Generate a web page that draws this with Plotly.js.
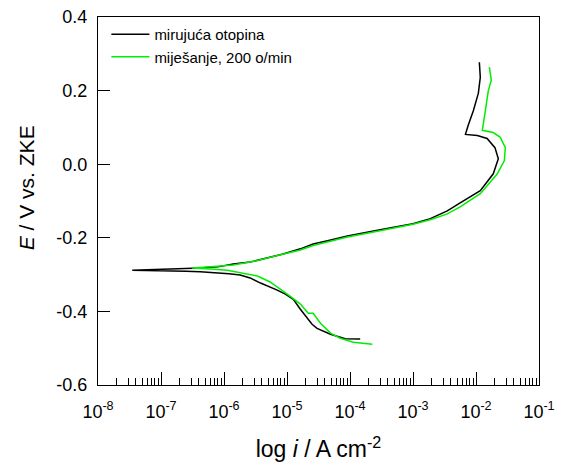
<!DOCTYPE html>
<html>
<head>
<meta charset="utf-8">
<script src="https://cdn.plot.ly/plotly-3.0.1.min.js"></script>
<style>html,body{margin:0;padding:0;background:#fff;}#chart{width:566px;height:474px;}</style>
</head>
<body>
<div id="chart"></div>
<script>
// mirujuća otopina (quiescent solution): current density i (A cm-2) and potential E (V vs. ZKE)
const stillI = [1.45e-4, 8.4e-5, 4.9e-5, 3.0e-5, 2.5e-5, 2.1e-5, 1.63e-5, 1.26e-5, 9.4e-6, 7.0e-6,
  4.9e-6, 3.8e-6, 2.6e-6, 1.8e-6, 1.2e-6, 8.7e-7, 6.0e-7, 4.2e-7, 2.5e-7, 1.4e-7, 3.5e-8, 1.4e-7,
  2.4e-7, 4.2e-7, 8.0e-7, 1.4e-6, 2.6e-6, 4.9e-6, 8.7e-6, 1.63e-5, 2.6e-5, 4.4e-5, 9.1e-5, 3.0e-4,
  1.0e-3, 1.88e-3, 3.5e-3, 5.6e-3, 1.17e-2, 1.88e-2, 2.26e-2, 2.0e-2, 1.5e-2, 1.05e-2, 6.8e-3,
  7.5e-3, 9.1e-3, 1.09e-2, 1.17e-2, 1.13e-2];
const stillE = [-0.475, -0.474, -0.462, -0.446, -0.435, -0.419, -0.394, -0.367, -0.353, -0.342,
  -0.331, -0.323, -0.309, -0.301, -0.298, -0.296, -0.294, -0.292, -0.291, -0.290, -0.288, -0.285,
  -0.284, -0.282, -0.279, -0.271, -0.266, -0.255, -0.244, -0.230, -0.217, -0.208, -0.195, -0.178,
  -0.162, -0.148, -0.127, -0.105, -0.072, -0.026, 0.015, 0.045, 0.070, 0.078, 0.081,
  0.105, 0.146, 0.193, 0.236, 0.277];

// miješanje, 200 o/min (stirred solution)
const stirI = [2.26e-4, 1.13e-4, 7.0e-5, 4.9e-5, 3.4e-5, 2.6e-5, 2.18e-5, 1.63e-5, 1.13e-5, 7.8e-6,
  5.4e-6, 3.4e-6, 2.0e-6, 1.13e-6, 6.1e-7, 3.1e-7, 6.1e-7, 1.4e-6, 2.6e-6, 4.9e-6, 8.7e-6,
  1.63e-5, 2.6e-5, 9.1e-5, 3.0e-4, 1.0e-3, 1.88e-3, 3.5e-3, 5.6e-3, 1.17e-2, 2.18e-2, 2.82e-2,
  2.92e-2, 2.43e-2, 1.88e-2, 1.26e-2, 1.41e-2, 1.57e-2, 1.75e-2, 1.63e-2];
const stirE = [-0.489, -0.484, -0.473, -0.459, -0.432, -0.405, -0.405, -0.380, -0.359, -0.339,
  -0.320, -0.304, -0.296, -0.288, -0.285, -0.282, -0.279, -0.274, -0.266, -0.255, -0.245,
  -0.233, -0.221, -0.198, -0.181, -0.163, -0.151, -0.135, -0.116, -0.080, -0.026, 0.010,
  0.045, 0.073, 0.086, 0.092, 0.146, 0.200, 0.228, 0.264];

const seriesNames = ['mirujuća otopina', 'miješanje, 200 o/min'];
const yTicks = [-0.6, -0.4, -0.2, 0.0, 0.2, 0.4];
const yTickText = ['-0.6', '-0.4', '-0.2', '0.0', '0.2', '0.4'];
const xTicks = [1e-8, 1e-7, 1e-6, 1e-5, 1e-4, 1e-3, 1e-2, 1e-1];
const xTickText = ['10<sup>-8</sup>', '10<sup>-7</sup>', '10<sup>-6</sup>', '10<sup>-5</sup>',
  '10<sup>-4</sup>', '10<sup>-3</sup>', '10<sup>-2</sup>', '10<sup>-1</sup>'];

const font = 'Liberation Sans, Arial, sans-serif';

const traces = [
  {x: stillI, y: stillE, mode: 'lines', name: seriesNames[0], line: {color: '#000000', width: 1.5}},
  {x: stirI, y: stirE, mode: 'lines', name: seriesNames[1], line: {color: '#00ee00', width: 1.5}}
];

const layout = {
  width: 566, height: 474,
  margin: {l: 98, r: 27, t: 17, b: 89},
  paper_bgcolor: '#fff', plot_bgcolor: '#fff',
  font: {family: font, color: '#000', size: 18},
  showlegend: true,
  legend: {x: 0.019, y: 0.997, xanchor: 'left', yanchor: 'top', bgcolor: 'rgba(0,0,0,0)',
    font: {size: 15, family: font}, tracegroupgap: 0, itemwidth: 38},
  xaxis: {
    type: 'log', range: [-8, -1], tickmode: 'array', tickvals: xTicks, ticktext: xTickText,
    showgrid: false, zeroline: false, showline: true, linecolor: '#000', linewidth: 1, mirror: true,
    ticks: 'inside', ticklen: 13, tickcolor: '#000', tickwidth: 1,
    minor: {ticks: 'inside', ticklen: 7, tickcolor: '#000', showgrid: false, dtick: 'D1'},
    tickfont: {size: 18, family: font}, ticklabelstandoff: 10,
    title: {text: 'log <i>i</i> / A cm<sup>-2</sup>', font: {size: 23, family: font}, standoff: 20}
  },
  yaxis: {
    range: [-0.6, 0.4], tickmode: 'array', tickvals: yTicks, ticktext: yTickText,
    showgrid: false, zeroline: false, showline: true, linecolor: '#000', linewidth: 1, mirror: true,
    ticks: 'inside', ticklen: 12, tickcolor: '#000', tickwidth: 1,
    tickfont: {size: 18, family: font}, ticklabelstandoff: 6
  },
  annotations: [{
    text: '<i>E</i> / V vs. ZKE', xref: 'paper', yref: 'paper', x: -0.163, y: 0.535,
    xanchor: 'center', yanchor: 'middle', textangle: -90, showarrow: false,
    font: {size: 21, family: font, color: '#000'}
  }]
};

Plotly.newPlot('chart', traces, layout, {displayModeBar: false, staticPlot: true});
</script>
</body>
</html>
